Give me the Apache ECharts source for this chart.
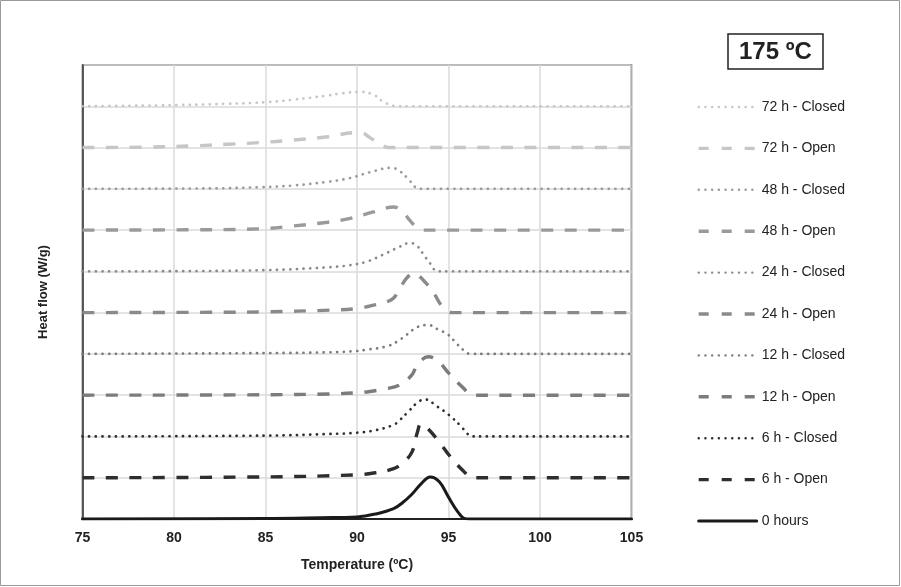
<!DOCTYPE html>
<html><head><meta charset="utf-8">
<script src="https://cdn.jsdelivr.net/npm/echarts@6/dist/echarts.min.js"></script>
<style>html,body{margin:0;padding:0;background:#fff}#c{width:901px;height:587px}</style>
</head><body><div id="c"></div>
<script>
// ---- data ----
const xTicks = [75, 80, 85, 90, 95, 100, 105];
const seriesNames = ['72 h - Closed','72 h - Open','48 h - Closed','48 h - Open','24 h - Closed','24 h - Open','12 h - Closed','12 h - Open','6 h - Closed','6 h - Open','0 hours'];
const baselineOffsets = [10, 9, 8, 7, 6, 5, 4, 3, 2, 1, 0];

// [temperature (ºC), heat flow above its baseline]
const h72Closed = [[75,0],[77,0.01],[79.2,0.02],[82.9,0.06],[85.1,0.1],[86.5,0.16],[88.4,0.26],[89.1,0.31],[90.2,0.35],[90.9,0.28],[91.4,0.12],[91.9,0.02],[92.2,0],[93,0],[105,0]];
const h72Open   = [[75,0],[78.5,0.01],[81,0.04],[82.9,0.08],[84.7,0.12],[86.5,0.18],[88.4,0.26],[89.9,0.36],[90.3,0.35],[90.7,0.24],[91.3,0.08],[91.7,0],[92.5,0],[105,0]];
const h48Closed = [[75,0],[82,0.01],[84.7,0.04],[86.5,0.08],[88.4,0.17],[89.6,0.26],[90.7,0.4],[91.9,0.51],[92.3,0.44],[92.8,0.24],[93.3,0.01],[93.5,0],[94.3,0],[105,0]];
const h48Open   = [[75,0],[82,0.01],[84.7,0.03],[86.5,0.1],[88.4,0.19],[89.5,0.27],[90.9,0.44],[92,0.56],[92.5,0.44],[92.9,0.23],[93.3,0.05],[93.6,0],[94.4,0],[105,0]];
const h24Closed = [[75,0],[80,0.005],[85,0.03],[88.5,0.1],[89.6,0.15],[90.5,0.23],[91.4,0.4],[92.3,0.59],[92.9,0.69],[93.3,0.61],[93.6,0.43],[94,0.19],[94.4,0],[95.2,0],[105,0]];
const h24Open   = [[75,0],[83,0.01],[85,0.02],[88.5,0.06],[90,0.1],[90.9,0.18],[91.9,0.32],[92.3,0.55],[92.7,0.83],[93.1,0.95],[93.7,0.75],[94.2,0.47],[94.6,0.18],[95,0.03],[95.2,0],[96,0],[105,0]];
const h12Closed = [[75,0],[85,0.02],[88.5,0.04],[90,0.07],[90.5,0.1],[91.6,0.18],[92.2,0.3],[92.7,0.46],[93.3,0.65],[93.9,0.7],[94.4,0.6],[95,0.46],[95.4,0.27],[95.8,0.1],[96.2,0],[97,0],[105,0]];
const h12Open   = [[75,0],[85,0.01],[88.5,0.03],[90,0.06],[90.7,0.09],[91.5,0.15],[92.3,0.24],[93,0.49],[93.3,0.74],[93.9,0.93],[94.4,0.84],[95,0.54],[95.8,0.18],[96.3,0],[97,0],[105,0]];
const h6Closed  = [[75,0],[85,0.02],[88.5,0.06],[90,0.09],[91,0.15],[92,0.28],[92.3,0.38],[92.8,0.6],[93.3,0.82],[93.7,0.9],[94.4,0.72],[95,0.53],[95.7,0.24],[96,0.08],[96.3,0],[97,0],[105,0]];
const h6Open    = [[75,0],[85,0.02],[90,0.07],[91,0.12],[92,0.22],[92.5,0.36],[93,0.62],[93.3,1.1],[93.5,1.31],[93.8,1.22],[94.4,0.92],[95.1,0.51],[95.8,0.17],[96.3,0],[97,0],[105,0]];
const h0        = [[75,0],[85,0.01],[88,0.03],[90,0.05],[91,0.12],[92,0.25],[92.5,0.4],[93,0.6],[93.5,0.85],[94,1.02],[94.5,0.9],[95,0.53],[95.5,0.18],[95.9,0.01],[96.2,0],[97,0],[105,0]];
const seriesData = [h72Closed, h72Open, h48Closed, h48Open, h24Closed, h24Open, h12Closed, h12Open, h6Closed, h6Open, h0];

// ---- styles ----
const colors = ['#c6c6c6','#c6c6c6','#9a9a9a','#9a9a9a','#8a8a8a','#8a8a8a','#7c7c7c','#7c7c7c','#2e2e2e','#2e2e2e','#1a1a1a'];
const DOT = {type:[0.1, 6.6], width:2.7, cap:'round'};
const DASH = {type:[12, 11.5], width:3.4, cap:'butt'};
const SOLID = {type:'solid', width:3, cap:'round'};
const lineKinds = [DOT, DASH, DOT, DASH, DOT, DASH, DOT, DASH, DOT, DASH, SOLID];
const LEGEND_DOT = {type:[0.1, 6.6], width:2.4, cap:'round'};
const LEGEND_DASH = {type:[10, 13], width:3.4, cap:'butt'};
const legendKinds = [LEGEND_DOT, LEGEND_DASH, LEGEND_DOT, LEGEND_DASH, LEGEND_DOT, LEGEND_DASH, LEGEND_DOT, LEGEND_DASH, LEGEND_DOT, LEGEND_DASH, SOLID];

const FONT = '"Liberation Sans", Arial, sans-serif';

const series = seriesNames.map((name, i) => ({
  name,
  type: 'line',
  data: seriesData[i].map(p => [p[0], p[1] + baselineOffsets[i]]),
  symbol: 'none',
  smooth: 0.4,
  lineStyle: Object.assign({color: colors[i]}, lineKinds[i]),
  itemStyle: {color: colors[i]},
  z: 3
}));

const chart = echarts.init(document.getElementById('c'), null, {renderer: 'canvas'});
chart.setOption({
  backgroundColor: '#fff',
  animation: false,
  textStyle: {fontFamily: FONT},
  title: {
    text: '175 ºC',
    left: 728, top: 34,
    padding: [6, 11, 5, 11],
    borderColor: '#222', borderWidth: 1.5,
    textStyle: {fontFamily: FONT, fontSize: 24, fontWeight: 'bold', color: '#222'}
  },
  legend: {
    orient: 'vertical',
    left: 692, top: 95,
    itemWidth: 58, itemHeight: 14, itemGap: 27.4,
    data: seriesNames.map((name, i) => ({name, lineStyle: Object.assign({color: colors[i]}, legendKinds[i])})),
    itemStyle: {opacity: 0},
    textStyle: {fontFamily: FONT, fontSize: 14, color: '#222', lineHeight: 14},
    selectedMode: false
  },
  grid: {left: 82.5, right: 269.5, top: 65, bottom: 68, show: true, borderColor: '#333', borderWidth: 1.5, backgroundColor: 'transparent'},
  xAxis: {
    type: 'value', min: 75, max: 105, interval: 5,
    name: 'Temperature (ºC)', nameLocation: 'middle', nameGap: 39,
    nameTextStyle: {fontFamily: FONT, fontSize: 14, fontWeight: 'bold', color: '#222'},
    axisLine: {show: true, lineStyle: {color: '#222', width: 2}},
    axisTick: {show: false},
    axisLabel: {fontFamily: FONT, fontSize: 14, fontWeight: 'bold', color: '#222', margin: 12,
      formatter: v => xTicks.includes(v) ? String(v) : ''},
    splitLine: {show: true, lineStyle: {color: '#dadada', width: 1.5}}
  },
  yAxis: {
    type: 'value', min: 0, max: 11, interval: 1,
    name: 'Heat flow (W/g)', nameLocation: 'middle', nameGap: 33, nameRotate: 90,
    nameTextStyle: {fontFamily: FONT, fontSize: 13, fontWeight: 'bold', color: '#222'},
    axisLine: {show: true, lineStyle: {color: '#333', width: 1.5}},
    axisTick: {show: false},
    axisLabel: {show: false},
    splitLine: {show: true, lineStyle: {color: '#dadada', width: 1.5}}
  },
  graphic: [{
    type: 'rect', silent: true, z: -1,
    shape: {x: 0.5, y: 0.5, width: 899, height: 585},
    style: {fill: 'none', stroke: '#9a9a9a', lineWidth: 1}
  }],
  series
});
</script></body></html>
